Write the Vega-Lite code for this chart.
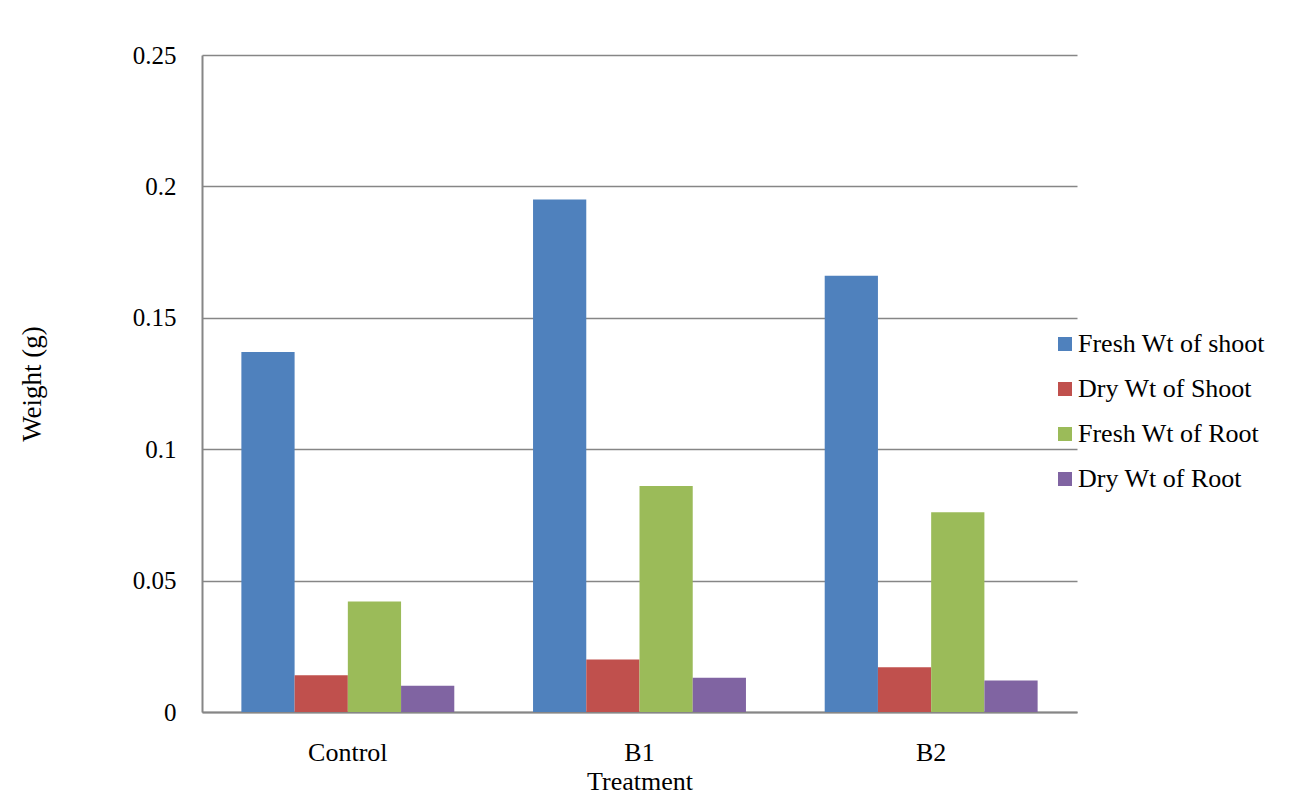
{
  "$schema": "https://vega.github.io/schema/vega-lite/v6.json",
  "autosize": {"type": "none"},
  "width": 875,
  "height": 657,
  "padding": {"left": 202, "top": 55, "right": 212, "bottom": 93},
  "background": "white",
  "data": {
    "values": [
      {"Treatment": "Control", "Series": "Fresh Wt of shoot", "Weight": 0.137},
      {"Treatment": "Control", "Series": "Dry Wt of Shoot", "Weight": 0.014},
      {"Treatment": "Control", "Series": "Fresh Wt of Root", "Weight": 0.042},
      {"Treatment": "Control", "Series": "Dry Wt of Root", "Weight": 0.010},
      {"Treatment": "B1", "Series": "Fresh Wt of shoot", "Weight": 0.195},
      {"Treatment": "B1", "Series": "Dry Wt of Shoot", "Weight": 0.020},
      {"Treatment": "B1", "Series": "Fresh Wt of Root", "Weight": 0.086},
      {"Treatment": "B1", "Series": "Dry Wt of Root", "Weight": 0.013},
      {"Treatment": "B2", "Series": "Fresh Wt of shoot", "Weight": 0.166},
      {"Treatment": "B2", "Series": "Dry Wt of Shoot", "Weight": 0.017},
      {"Treatment": "B2", "Series": "Fresh Wt of Root", "Weight": 0.076},
      {"Treatment": "B2", "Series": "Dry Wt of Root", "Weight": 0.012}
    ]
  },
  "mark": {"type": "bar"},
  "encoding": {
    "x": {
      "field": "Treatment",
      "type": "nominal",
      "sort": ["Control", "B1", "B2"],
      "scale": {"paddingInner": 0.27, "paddingOuter": 0.135},
      "axis": {
        "title": "Treatment",
        "labelAngle": 0,
        "ticks": false,
        "labelPadding": 27,
        "titlePadding": 3,
        "labelFontSize": 26,
        "titleFontSize": 26,
        "domainColor": "#868686",
        "domainWidth": 2
      }
    },
    "xOffset": {
      "field": "Series",
      "type": "nominal",
      "sort": ["Fresh Wt of shoot", "Dry Wt of Shoot", "Fresh Wt of Root", "Dry Wt of Root"],
      "scale": {"paddingInner": 0, "paddingOuter": 0}
    },
    "y": {
      "field": "Weight",
      "type": "quantitative",
      "scale": {"domain": [0, 0.25]},
      "axis": {
        "title": "Weight (g)",
        "values": [0, 0.05, 0.1, 0.15, 0.2, 0.25],
        "format": "~g",
        "ticks": false,
        "labelPadding": 26,
        "labelFontSize": 25,
        "titlePadding": 86,
        "titleFontSize": 27,
        "domainColor": "#868686",
        "domainWidth": 2,
        "grid": true,
        "gridColor": "#868686",
        "gridWidth": 1.5
      }
    },
    "color": {
      "field": "Series",
      "type": "nominal",
      "sort": ["Fresh Wt of shoot", "Dry Wt of Shoot", "Fresh Wt of Root", "Dry Wt of Root"],
      "scale": {
        "domain": ["Fresh Wt of shoot", "Dry Wt of Shoot", "Fresh Wt of Root", "Dry Wt of Root"],
        "range": ["#4F81BD", "#C0504D", "#9BBB59", "#8064A2"]
      },
      "legend": {
        "title": null,
        "orient": "none",
        "legendX": 850,
        "legendY": 276,
        "symbolType": "square",
        "symbolSize": 196,
        "symbolStrokeWidth": 0,
        "labelOffset": 0,
        "rowPadding": 19,
        "labelExpr": "indexof(datum.label, 'Dry Wt of Root') >= 0 ? '\u00a0\u00a0Dry Wt of Root' : datum.label"
      }
    }
  },
  "config": {
    "font": "Liberation Serif",
    "view": {"stroke": null},
    "axis": {
      "labelFont": "Liberation Serif",
      "titleFont": "Liberation Serif",
      "labelColor": "black",
      "titleColor": "black",
      "titleFontWeight": "normal"
    },
    "legend": {
      "labelFont": "Liberation Serif",
      "labelFontSize": 26,
      "labelColor": "black",
      "labelLimit": 400
    }
  }
}
